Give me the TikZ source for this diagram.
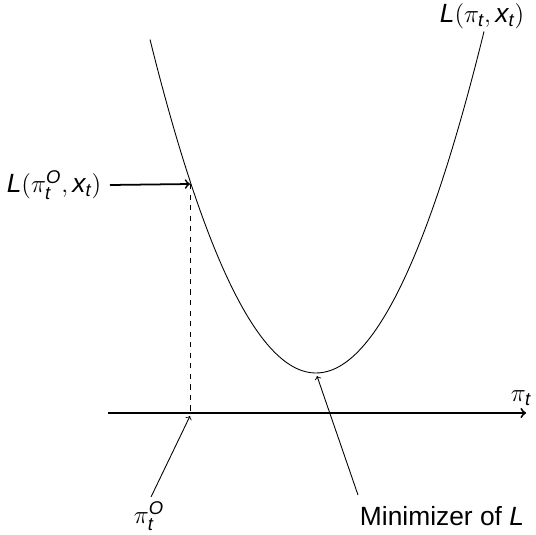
\documentclass[tikz,border=0pt]{standalone}
\usepackage{amsmath}
\usepackage{fontspec}
\setmainfont{Liberation Sans}
\usepackage{tikz}
\usetikzlibrary{positioning, calc}
\newcommand{\mi}[1]{\text{\itshape #1}}

\begin{document}
\begin{tikzpicture}[x=0.02cm, y=-0.02cm, font=\fontsize{15}{18}\selectfont,
    lbl/.style={inner sep=1pt},
    axisline/.style={line width=1.1pt, ->},
    pointer/.style={->, line width=0.5pt}]
    \useasboundingbox (0,0) rectangle (536,534);

    % Loss curve
    \draw[line width=0.5pt] plot[domain=150:484, samples=80, smooth] ({\x},{373-1.21*((\x-316)/10)^2});
    \node[lbl] (lcurve) at (482,16) {$\mi{L}(\pi_{\mi{t}}, \mi{x}_{\mi{t}})$};

    % Axis
    \coordinate (ax0) at (108,413);
    \coordinate (ax1) at (526,413);
    \draw[axisline] (ax0) -- (ax1);
    \node[lbl] (pit) at (521,398) {$\pi_{\mi{t}}$};

    % Observed point
    \coordinate (obs) at (190,184);
    \coordinate (obsx) at (190,413);
    \draw[dashed, line width=0.5pt] (obs) -- (obsx);
    \node[lbl] (lobs) at (54,185) {$\mi{L}(\pi_{\mi{t}}^{\mi{O}}, \mi{x}_{\mi{t}})$};
    \coordinate (lobsend) at (110,185);
    \draw[->, line width=1pt] (lobsend) -- (obs);

    \node[lbl] (piobs) at (149,516) {$\pi_{\mi{t}}^{\mi{O}}$};
    \coordinate (piobsend) at (151,497);
    \draw[pointer] (piobsend) -- ($(obsx)+(0,3)$);

    % Minimizer
    \coordinate (mini) at (317,376);
    \node[lbl] (minlbl) at (442,516) {Minimizer of \textit{L}};
    \coordinate (minend) at (358,495);
    \draw[pointer] (minend) -- (mini);
\end{tikzpicture}
\end{document}
